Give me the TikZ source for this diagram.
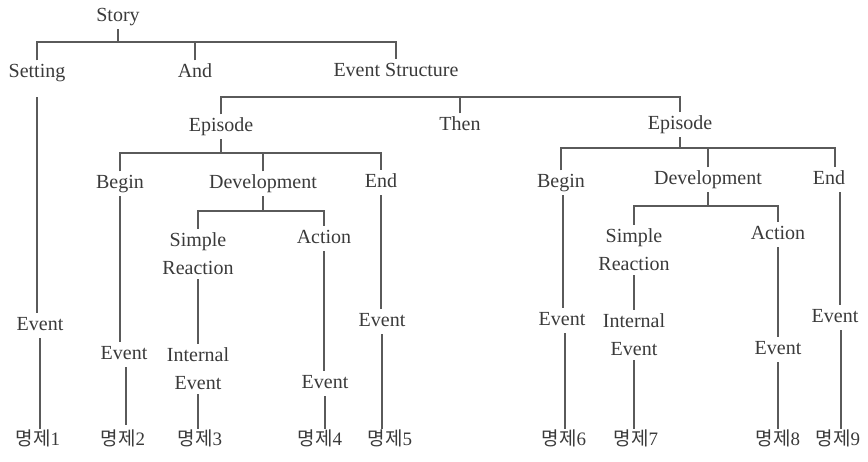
\documentclass[tikz,border=0pt]{standalone}
\usepackage{fontspec}
\setmainfont{Liberation Serif}
\newfontfamily\kr{Noto Sans CJK KR}
\definecolor{ink}{HTML}{3A3A3A}
\definecolor{wire}{HTML}{5A5A5A}
\begin{document}
\begin{tikzpicture}[x=1pt,y=-1pt,
  base/.style={inner sep=1pt,outer sep=3pt,
    font=\fontsize{20}{28}\selectfont,text=ink,align=center},
  lab/.style={base,text height=13pt,text depth=4pt},
  two/.style={base},
  prop/.style={lab,font=\fontsize{19}{28}\selectfont},
  ln/.style={draw=wire,line width=1.1pt}]
\useasboundingbox (0,0) rectangle (868,462);
% level 0-1
\node[lab] (story) at (118,17) {Story};
\node[lab] (setting) at (37,73) {Setting};
\node[lab] (and) at (195,73) {And};
\node[lab] (evs) at (396,72) {Event Structure};
% level 2
\node[lab] (ep1) at (221,127) {Episode};
\node[lab] (then) at (460,126) {Then};
\node[lab] (ep2) at (680,125) {Episode};
% left episode
\node[lab] (beg1) at (120,184) {Begin};
\node[lab] (dev1) at (263,184) {Development};
\node[lab] (end1) at (381,183) {End};
\node[two] (sr1) at (198,254) {Simple\\Reaction};
\node[lab] (act1) at (324,239) {Action};
\node[lab] (ev1) at (40,326) {Event};
\node[lab] (ev2) at (124,355) {Event};
\node[two] (ie1) at (198,369) {Internal\\Event};
\node[lab] (ev4) at (325,384) {Event};
\node[lab] (ev5) at (382,322) {Event};
% right episode
\node[lab] (beg2) at (561,183) {Begin};
\node[lab] (dev2) at (708,180) {Development};
\node[lab] (end2) at (829,180) {End};
\node[two] (sr2) at (634,250) {Simple\\Reaction};
\node[lab] (act2) at (778,235) {Action};
\node[lab] (ev6) at (562,321) {Event};
\node[two] (ie2) at (634,335) {Internal\\Event};
\node[lab] (ev8) at (778,350) {Event};
\node[lab] (ev9) at (835,318) {Event};
% propositions
\node[prop] (p1) at (38,441) {{\kr 명제}1};
\node[prop] (p2) at (123,441) {{\kr 명제}2};
\node[prop] (p3) at (200,441) {{\kr 명제}3};
\node[prop] (p4) at (320,441) {{\kr 명제}4};
\node[prop] (p5) at (390,441) {{\kr 명제}5};
\node[prop] (p6) at (564,441) {{\kr 명제}6};
\node[prop] (p7) at (636,441) {{\kr 명제}7};
\node[prop] (p8) at (778,441) {{\kr 명제}8};
\node[prop] (p9) at (838,441) {{\kr 명제}9};
% bars
\coordinate (b1) at (118,42);
\coordinate (b2) at (460,97);
\coordinate (b3) at (221,153);
\coordinate (b4) at (263,211);
\coordinate (b5) at (680,148);
\coordinate (b6) at (708,206);
% Story
\draw[ln] (story) -- (b1);
\draw[ln] (setting) |- (b1) -| (evs);
\draw[ln] (and) -- (and |- b1);
% Event structure
\draw[ln] (ep1) |- (b2) -| (ep2);
\draw[ln] (then) -- (b2);
% Episode 1
\draw[ln] (ep1) -- (b3);
\draw[ln] (beg1) |- (b3) -| (end1);
\draw[ln] (dev1) -- (dev1 |- b3);
\draw[ln] (dev1) -- (b4);
\draw[ln] (sr1) |- (b4) -| (act1);
% Episode 2
\draw[ln] (ep2) -- (b5);
\draw[ln] (beg2) |- (b5) -| (end2.north -| 835,0);
\draw[ln] (dev2) -- (dev2 |- b5);
\draw[ln] (dev2) -- (b6);
\draw[ln] (sr2) |- (b6) -| (act2);
% verticals, left
\draw[ln,shorten <=12pt] (setting) -- (setting |- ev1.north);
\draw[ln] (ev1) -- (ev1 |- p1.north);
\draw[ln] (beg1) -- (beg1 |- ev2.north);
\draw[ln,shorten >=4pt] (ev2.south -| 126,0) -- (p2.north -| 126,0);
\draw[ln] (sr1) -- (sr1 |- ie1.north);
\draw[ln] (ie1) -- (ie1 |- p3.north);
\draw[ln] (act1) -- (act1 |- ev4.north);
\draw[ln] (ev4) -- (ev4 |- p4.north);
\draw[ln] (end1) -- (end1 |- ev5.north);
\draw[ln] (ev5) -- (ev5 |- p5.north);
% verticals, right
\draw[ln] (beg2.south -| 563,0) -- (ev6.north -| 563,0);
\draw[ln] (ev6.south -| 565,0) -- (p6.north -| 565,0);
\draw[ln] (sr2) -- (sr2 |- ie2.north);
\draw[ln] (ie2) -- (ie2 |- p7.north);
\draw[ln] (act2) -- (act2 |- ev8.north);
\draw[ln] (ev8) -- (ev8 |- p8.north);
\draw[ln] (end2.south -| 840,0) -- (ev9.north -| 840,0);
\draw[ln] (ev9.south -| 841,0) -- (p9.north -| 841,0);
\end{tikzpicture}
\end{document}
